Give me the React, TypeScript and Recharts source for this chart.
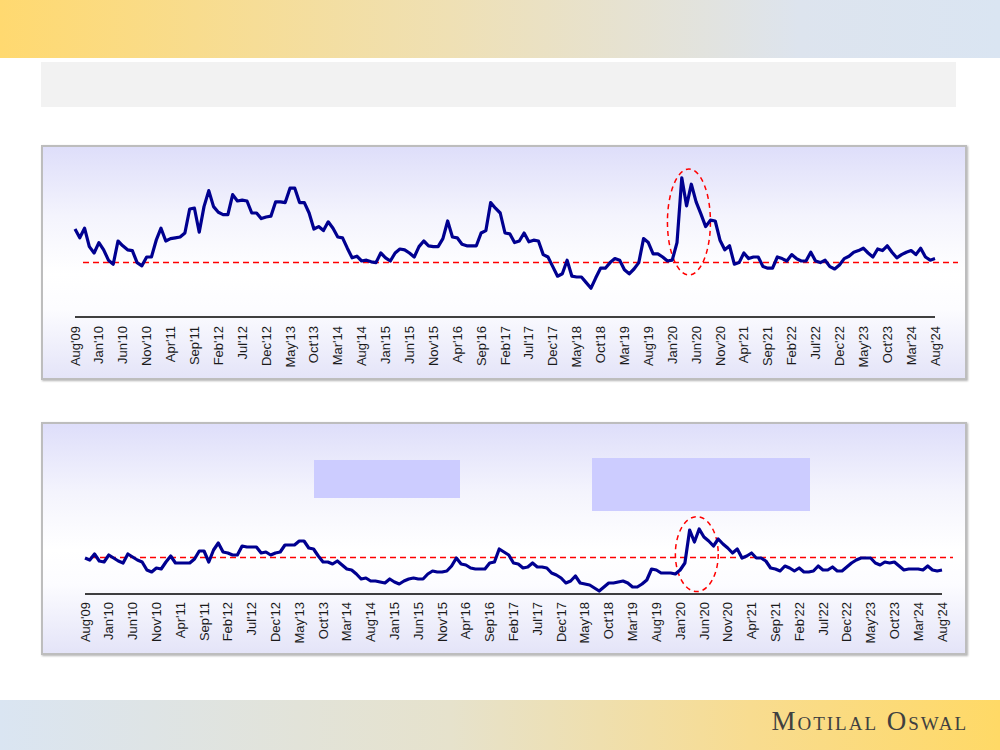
import { LineChart, Line, XAxis, YAxis, ReferenceLine, ReferenceArea } from 'recharts';

// monthly readings, Aug'09 .. Aug'24 (181 months)
const MONTHS = ['Jan', 'Feb', 'Mar', 'Apr', 'May', 'Jun', 'Jul', 'Aug', 'Sep', 'Oct', 'Nov', 'Dec'];

const labels: string[] = [];
for (let k = 0; k < 181; k++) {
  const m = (7 + k) % 12;
  const yr = 2009 + Math.floor((7 + k) / 12);
  labels.push(`${MONTHS[m]}'${String(yr).slice(2)}`);
}

const topSeries = [
  21.0, 19.9, 21.1, 18.8, 18.0, 19.3, 18.4, 17.1, 16.6, 19.5,
  18.9, 18.4, 18.3, 16.8, 16.4, 17.5, 17.5, 19.6, 21.1, 19.5,
  19.8, 19.9, 20.0, 20.5, 23.5, 23.6, 20.6, 23.8, 25.8, 23.8,
  23.1, 22.8, 22.8, 25.3, 24.5, 24.6, 24.5, 23.0, 23.0, 22.3,
  22.5, 22.6, 24.4, 24.4, 24.3, 26.1, 26.1, 24.3, 24.3, 23.0,
  21.0, 21.3, 20.8, 21.9, 21.1, 20.0, 19.9, 18.6, 17.4, 17.6,
  17.0, 17.1, 16.9, 16.8, 18.0, 17.4, 17.0, 18.0, 18.5, 18.4,
  18.0, 17.5, 18.8, 19.5, 18.9, 18.8, 18.8, 19.8, 22.0, 20.0,
  19.9, 19.1, 18.9, 18.9, 18.9, 20.5, 20.8, 24.3, 23.6, 23.0,
  20.5, 20.4, 19.3, 19.5, 20.5, 19.4, 19.6, 19.5, 17.8, 17.5,
  16.3, 15.1, 15.4, 17.1, 15.1, 15.0, 15.0, 14.3, 13.6, 14.9,
  16.1, 16.1, 16.8, 17.3, 17.1, 15.9, 15.4, 16.0, 16.8, 19.8,
  19.3, 17.9, 17.9, 17.5, 17.0, 17.1, 19.3, 27.4, 23.9, 26.6,
  24.4, 22.9, 21.3, 22.1, 22.0, 19.6, 18.4, 18.9, 16.6, 16.8,
  18.0, 17.3, 17.5, 17.5, 16.3, 16.1, 16.1, 17.5, 17.3, 17.0,
  17.8, 17.3, 17.0, 17.0, 18.1, 17.0, 16.8, 17.1, 16.3, 16.0,
  16.5, 17.3, 17.6, 18.1, 18.3, 18.6, 18.0, 17.5, 18.5, 18.3,
  18.9, 18.1, 17.4, 17.8, 18.1, 18.3, 17.8, 18.6, 17.5, 17.1,
  17.3,
];

const bottomSeries = [
  1.80, 1.70, 2.00, 1.65, 1.60, 1.95, 1.80, 1.65, 1.55, 2.00,
  1.85, 1.70, 1.60, 1.20, 1.10, 1.30, 1.25, 1.60, 1.90, 1.55,
  1.55, 1.55, 1.55, 1.75, 2.15, 2.15, 1.60, 2.20, 2.55, 2.10,
  2.05, 1.95, 1.95, 2.40, 2.35, 2.35, 2.35, 2.05, 2.10, 1.95,
  2.05, 2.10, 2.45, 2.45, 2.45, 2.65, 2.65, 2.30, 2.25, 1.90,
  1.60, 1.60, 1.50, 1.65, 1.45, 1.25, 1.20, 1.00, 0.75, 0.80,
  0.65, 0.65, 0.60, 0.55, 0.75, 0.60, 0.50, 0.65, 0.75, 0.80,
  0.75, 0.75, 1.00, 1.15, 1.10, 1.10, 1.15, 1.40, 1.80, 1.50,
  1.45, 1.30, 1.25, 1.25, 1.25, 1.55, 1.60, 2.25, 2.10, 1.95,
  1.55, 1.50, 1.30, 1.35, 1.55, 1.35, 1.35, 1.30, 1.05, 0.95,
  0.80, 0.55, 0.65, 0.90, 0.55, 0.50, 0.45, 0.30, 0.15, 0.35,
  0.55, 0.55, 0.60, 0.65, 0.55, 0.35, 0.35, 0.50, 0.70, 1.25,
  1.20, 1.05, 1.05, 1.05, 1.00, 1.20, 1.55, 3.20, 2.60, 3.25,
  2.85, 2.65, 2.40, 2.75, 2.50, 2.30, 2.05, 2.25, 1.80, 1.90,
  2.05, 1.80, 1.80, 1.65, 1.30, 1.25, 1.15, 1.40, 1.30, 1.15,
  1.30, 1.10, 1.10, 1.15, 1.40, 1.20, 1.20, 1.35, 1.15, 1.15,
  1.35, 1.55, 1.70, 1.80, 1.80, 1.80, 1.55, 1.45, 1.60, 1.55,
  1.60, 1.40, 1.20, 1.25, 1.25, 1.25, 1.20, 1.40, 1.20, 1.15,
  1.20,
];

const topAvg = 16.8;
const bottomAvg = 1.83;

// covid spike highlight: Dec'19 .. Sep'20
const spikeFrom = "Dec'19";
const spikeTo = "Sep'20";

const topData = labels.map((m, i) => ({ month: m, value: topSeries[i] }));
const bottomData = labels.map((m, i) => ({ month: m, value: bottomSeries[i] }));

const NAVY = '#000090';
const RED = '#ff0000';

const makeTick = (offset: number) => (props: any) => {
  const { x, y, payload } = props;
  return (
    <g transform={`translate(${x},${y + offset}) rotate(-90)`}>
      <text x={0} y={0} dy="0.35em" textAnchor="end" fontSize={13} fill="#1a1a1a"
        fontFamily="'Liberation Sans', Arial, sans-serif">
        {payload.value}
      </text>
    </g>
  );
};

const avgLine = (left: number, right: number) => (props: any) => {
  const { x1, y1, x2, y2 } = props;
  return (
    <line x1={x1 + left} y1={y1} x2={x2 + right} y2={y2}
      stroke={RED} strokeWidth={1.5} strokeDasharray="6 4" />
  );
};

const ellipse = (props: any) => {
  const { x, y, width, height } = props;
  return (
    <ellipse cx={x + width / 2} cy={y + height / 2} rx={width / 2} ry={height / 2}
      fill="none" stroke={RED} strokeWidth={1.5} strokeDasharray="5 4" />
  );
};

const frame: React.CSSProperties = {
  position: 'absolute',
  left: 41,
  width: 922,
  border: '2px solid #bdbdbd',
  boxShadow: '1px 1px 2px rgba(0,0,0,0.3)',
  background: 'linear-gradient(to bottom, #dedefa 0%, #f4f4fd 30%, #ffffff 55%, #fcfcff 70%, #e4e4f8 100%)',
};

function App() {
  return (
    <div style={{ position: 'absolute', left: 0, top: 0, width: 1000, height: 750, background: '#fff', overflow: 'hidden' }}>
      {/* header / footer bands */}
      <div style={{ position: 'absolute', left: 0, top: 0, width: 1000, height: 58, background: 'linear-gradient(to right, #ffd970 0%, #efe0b4 45%, #dde4ee 80%, #dae5f2 100%)' }} />
      <div style={{ position: 'absolute', left: 0, top: 700, width: 1000, height: 50, background: 'linear-gradient(to right, #dae5f2 0%, #e6e2cc 45%, #f8dc90 75%, #ffd966 100%)' }} />
      <div style={{ position: 'absolute', right: 32, top: 706, fontFamily: "'Liberation Serif', 'Times New Roman', serif", fontVariant: 'small-caps', fontSize: 27, letterSpacing: 2, color: '#404040' }}>
        Motilal Oswal
      </div>
      <div style={{ position: 'absolute', left: 41, top: 62, width: 915, height: 45, background: '#f2f2f2' }} />

      {/* top chart */}
      <div style={{ ...frame, top: 145, height: 231 }} />
      <div style={{ position: 'absolute', left: 0, top: 145 }}>
        <LineChart width={1000} height={235} data={topData} margin={{ top: 12, right: 65, bottom: 0, left: 75 }}>
          <XAxis dataKey="month" interval={4} height={63} tickLine={false} tickSize={0} tickMargin={0}
            axisLine={{ stroke: '#000', strokeWidth: 1.5 }} tick={makeTick(9)} padding={{ left: 0, right: 0 }} />
          <YAxis hide domain={[10, 30]} />
          <ReferenceLine y={topAvg} shape={avgLine(8, 23)} />
          <ReferenceArea x1={spikeFrom} x2={spikeTo} y1={15.25} y2={28.5} shape={ellipse} />
          <Line type="linear" dataKey="value" stroke={NAVY} strokeWidth={3.2} dot={false}
            strokeLinejoin="round" isAnimationActive={false} />
        </LineChart>
      </div>

      {/* bottom chart */}
      <div style={{ ...frame, top: 422, height: 229 }} />
      <div style={{ position: 'absolute', left: 314, top: 460, width: 146, height: 38, background: '#ccccff' }} />
      <div style={{ position: 'absolute', left: 592, top: 458, width: 218, height: 53, background: '#ccccff' }} />
      <div style={{ position: 'absolute', left: 0, top: 422 }}>
        <LineChart width={1000} height={233} data={bottomData} margin={{ top: 12, right: 58, bottom: 0, left: 85 }}>
          <XAxis dataKey="month" interval={4} height={61} tickLine={false} tickSize={0} tickMargin={0}
            axisLine={{ stroke: '#000', strokeWidth: 1.5 }} tick={makeTick(8)} padding={{ left: 0, right: 0 }} />
          <YAxis hide domain={[0, 8]} />
          <ReferenceLine y={bottomAvg} shape={avgLine(5, 11)} />
          <ReferenceArea x1={spikeFrom} x2={spikeTo} y1={0.12} y2={3.87} shape={ellipse} />
          <Line type="linear" dataKey="value" stroke={NAVY} strokeWidth={3.2} dot={false}
            strokeLinejoin="round" isAnimationActive={false} />
        </LineChart>
      </div>
    </div>
  );
}

export default App;
